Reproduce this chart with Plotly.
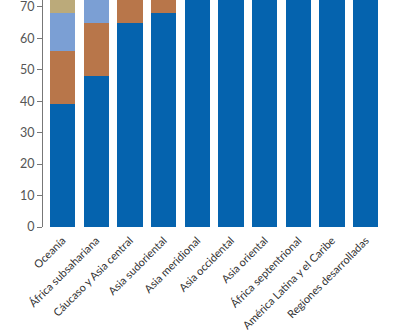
import plotly.graph_objects as go

regiones = [
    "Oceanía", "África subsahariana", "Cáucaso y Asia central", "Asia sudoriental",
    "Asia meridional", "Asia occidental", "Asia oriental", "África septentrional",
    "América Latina y el Caribe", "Regiones desarrolladas",
]

# stacked shares (%) per region, bottom to top
serie_a = [39, 48, 65, 68, 100, 100, 100, 100, 100, 100]
serie_b = [17, 17, 35, 32, 0, 0, 0, 0, 0, 0]
serie_c = [12, 35, 0, 0, 0, 0, 0, 0, 0, 0]
serie_d = [32, 0, 0, 0, 0, 0, 0, 0, 0, 0]

y_ticks = [0, 10, 20, 30, 40, 50, 60, 70]

colores = ["#0563AE", "#B8764A", "#7B9FD4", "#BBAA7A"]
nombres = ["Serie A", "Serie B", "Serie C", "Serie D"]

fig = go.Figure()
for nombre, vals, col in zip(nombres, [serie_a, serie_b, serie_c, serie_d], colores):
    fig.add_trace(go.Bar(
        x=regiones, y=vals, name=nombre,
        marker=dict(color=col, line=dict(width=0)),
    ))

fig.update_layout(
    barmode="stack",
    bargap=0.25,
    width=408, height=330,
    margin=dict(l=43, r=22, t=0, b=103, autoexpand=False),
    paper_bgcolor="white", plot_bgcolor="white",
    showlegend=False,
    font=dict(family="Lato, sans-serif", color="#444444"),
)
fig.update_xaxes(
    range=[-0.58, 9.6],
    tickangle=-45,
    tickfont=dict(size=11, color="#333333"),
    ticklabelstandoff=4,
    showline=False, showgrid=False, ticks="",
    automargin=False,
)
fig.update_yaxes(
    range=[0, 72.2],
    tickvals=y_ticks,
    tickfont=dict(size=12.5, color="#555555"),
    showline=True, linecolor="#777777", linewidth=1,
    ticks="outside", ticklen=5, tickcolor="#777777",
    showgrid=False, zeroline=False,
    automargin=False,
    ticklabeloverflow="allow",
)

fig.write_html("out.html")
